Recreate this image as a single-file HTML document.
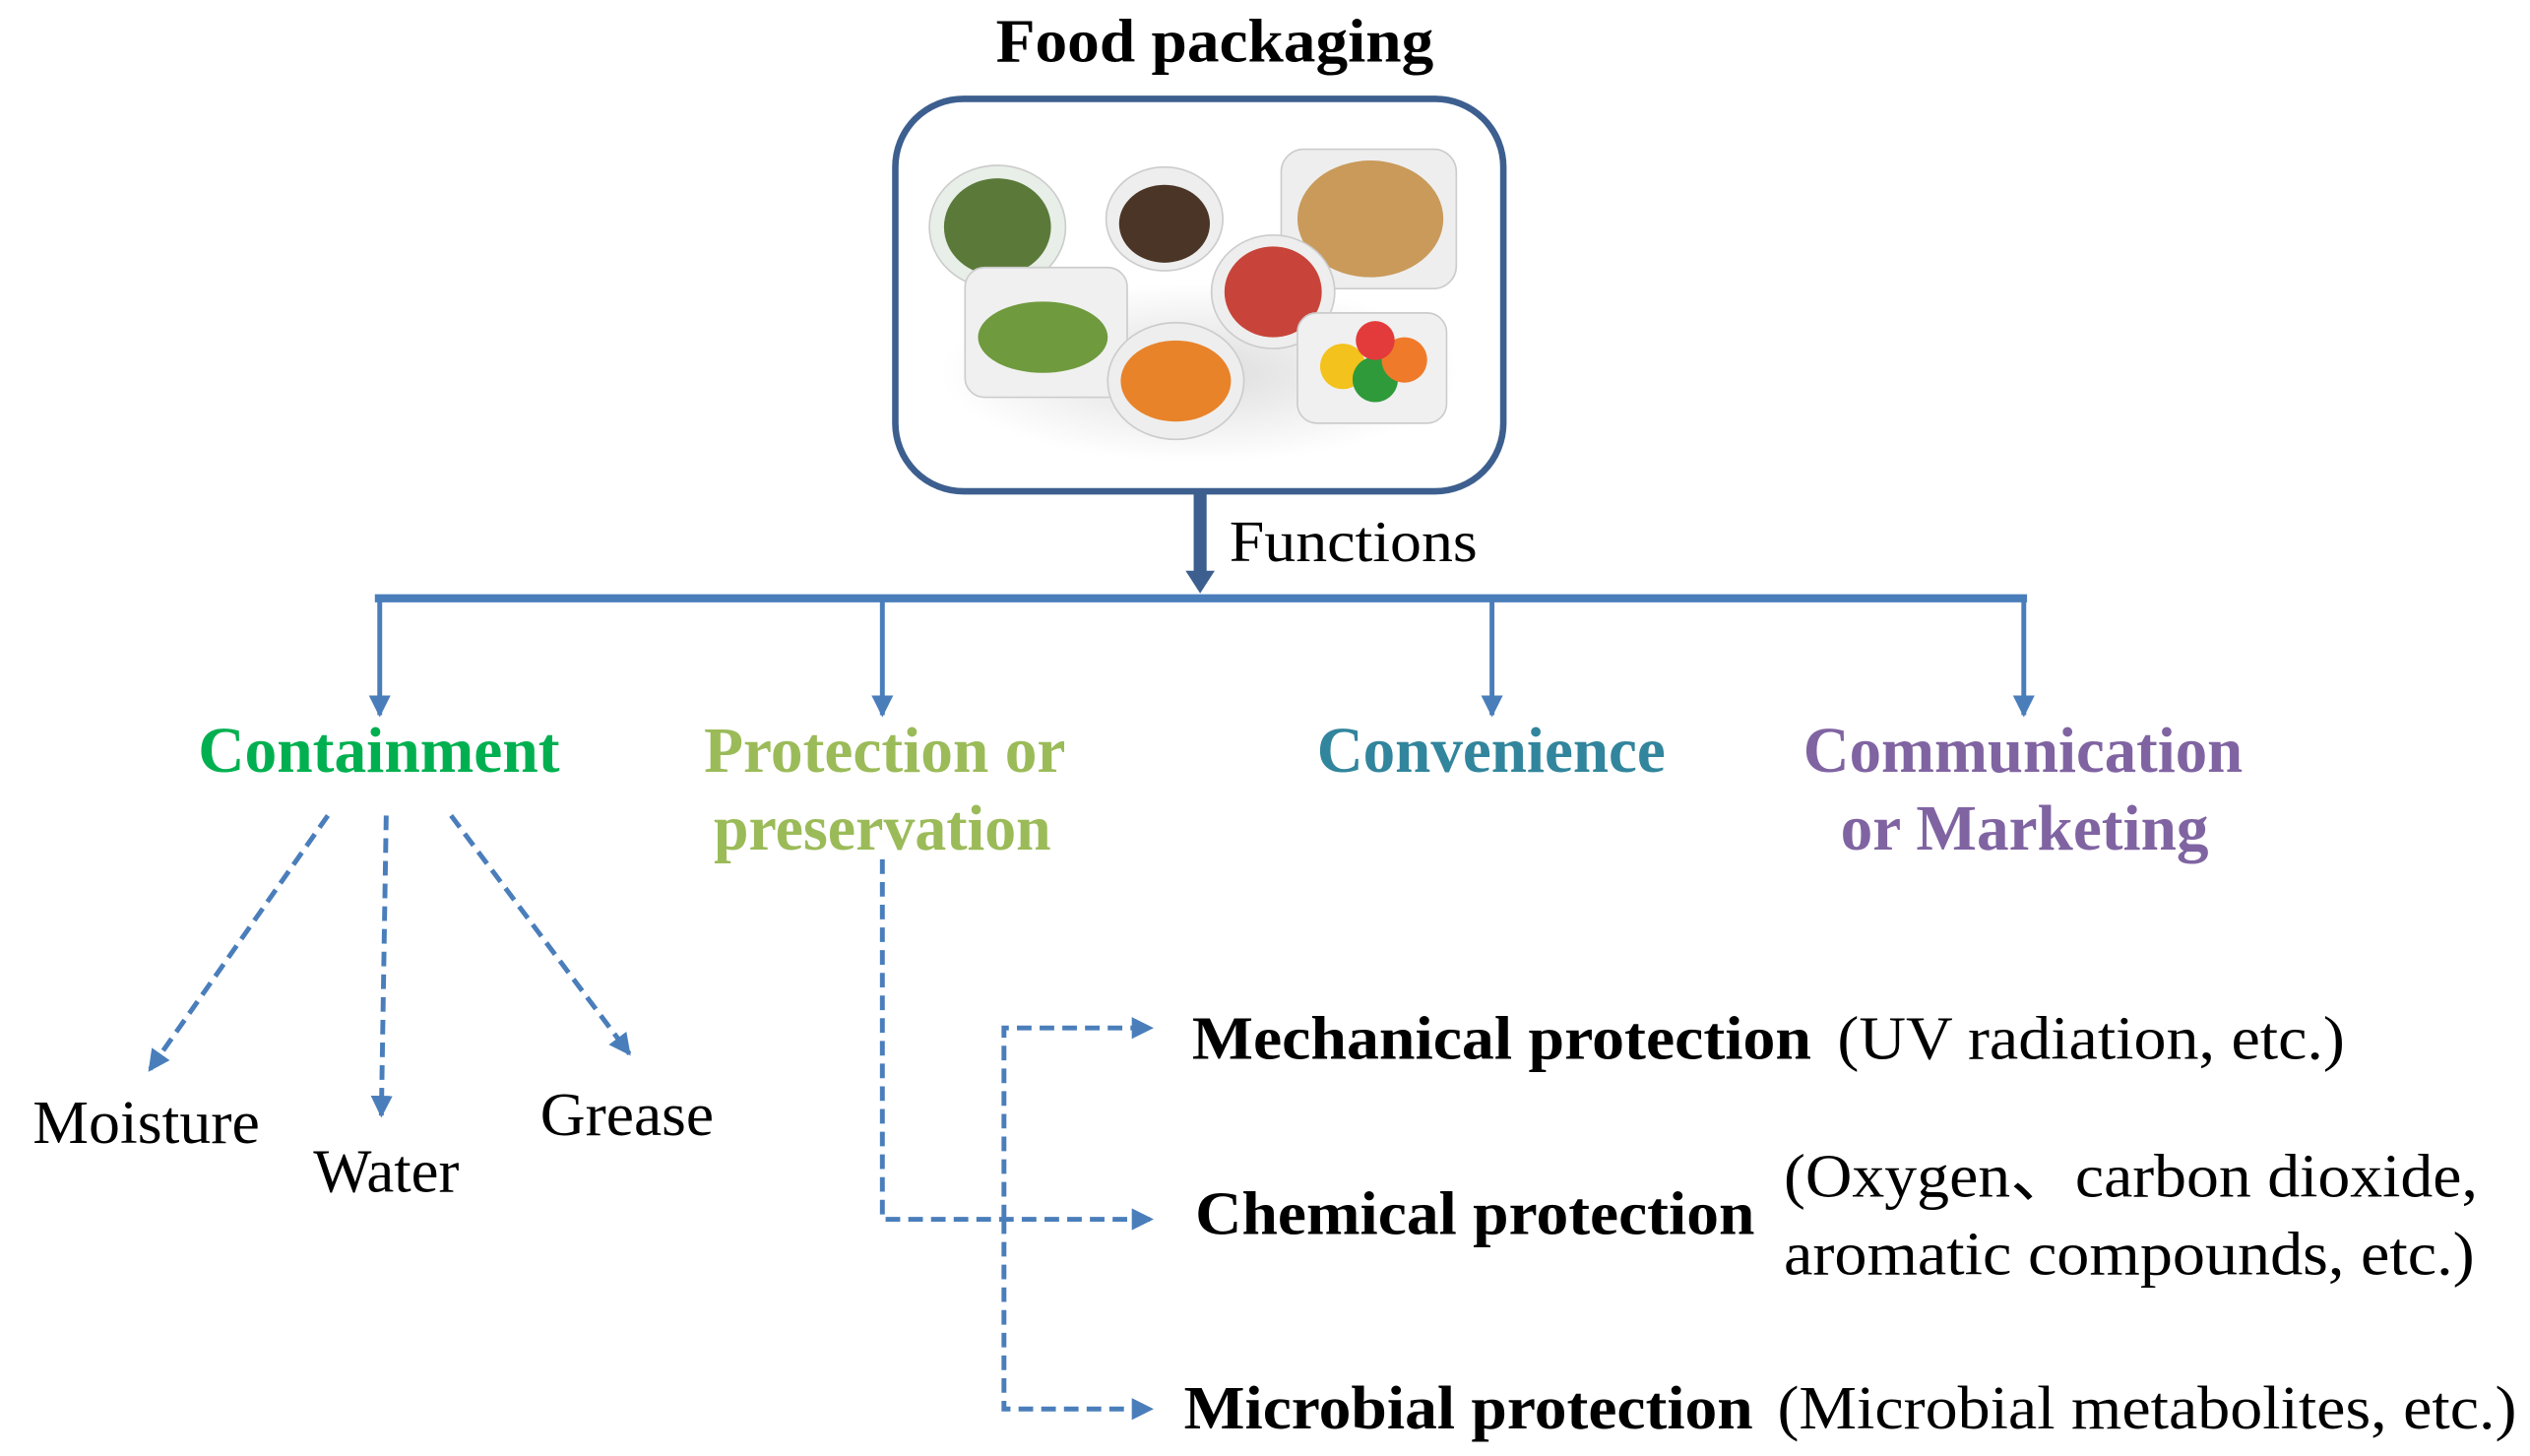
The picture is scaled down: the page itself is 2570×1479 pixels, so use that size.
<!DOCTYPE html>
<html><head><meta charset="utf-8"><style>html,body{margin:0;padding:0;background:#fff}svg{display:block}</style></head>
<body>
<svg width="2570" height="1479" viewBox="0 0 1560 898" xmlns="http://www.w3.org/2000/svg" font-family="'Liberation Serif', serif">
<defs>
<marker id="a" viewBox="0 0 10 10" refX="9" refY="5" markerWidth="4.5" markerHeight="4.5" orient="auto"><path d="M0,0 L10,5 L0,10 z" fill="#4a7ebb"/></marker>
<marker id="b" viewBox="0 0 10 10" refX="9" refY="5" markerWidth="4.5" markerHeight="4.5" orient="auto"><path d="M0,0 L10,5 L0,10 z" fill="#4a7ebb"/></marker>
<radialGradient id="sh" cx="0.5" cy="0.5" r="0.5"><stop offset="0" stop-color="#ddd"/><stop offset="1" stop-color="#fff"/></radialGradient>
</defs>
<text x="614" y="38" font-size="38" font-weight="bold" textLength="270" lengthAdjust="spacingAndGlyphs">Food packaging</text>
<rect x="552" y="61" width="375" height="242" rx="42" fill="#fff" stroke="#3d5f8f" stroke-width="4"/>
<ellipse cx="740" cy="230" rx="160" ry="55" fill="url(#sh)"/>
<ellipse cx="615" cy="140" rx="42" ry="38" fill="#e8eee8" stroke="#ccc"/>
<ellipse cx="615" cy="140" rx="33" ry="30" fill="#5b7a3a"/>
<ellipse cx="718" cy="135" rx="36" ry="32" fill="#eee" stroke="#ccc"/>
<ellipse cx="718" cy="138" rx="28" ry="24" fill="#4a3526"/>
<rect x="790" y="92" width="108" height="86" rx="14" fill="#eee" stroke="#ccc"/>
<ellipse cx="845" cy="135" rx="45" ry="36" fill="#c99a5a"/>
<rect x="595" y="165" width="100" height="80" rx="12" fill="#f0f0f0" stroke="#ccc"/>
<ellipse cx="643" cy="208" rx="40" ry="22" fill="#6f9a3e"/>
<ellipse cx="785" cy="180" rx="38" ry="35" fill="#eee" stroke="#ccc"/>
<ellipse cx="785" cy="180" rx="30" ry="28" fill="#c8443a"/>
<ellipse cx="725" cy="235" rx="42" ry="36" fill="#eee" stroke="#ccc"/>
<ellipse cx="725" cy="235" rx="34" ry="25" fill="#e8832a"/>
<rect x="800" y="193" width="92" height="68" rx="12" fill="#f0f0f0" stroke="#ccc"/>
<circle cx="828" cy="226" r="14" fill="#f3c21c"/>
<circle cx="848" cy="234" r="14" fill="#2e9a3a"/>
<circle cx="866" cy="222" r="14" fill="#ef7b2a"/>
<circle cx="848" cy="210" r="12" fill="#e33b3b"/>
<line x1="740" y1="304" x2="740" y2="355" stroke="#3d5f8f" stroke-width="8"/>
<path d="M731,352 L749,352 L740,366 z" fill="#3d5f8f"/>
<text x="758" y="346" font-size="36" textLength="153" lengthAdjust="spacingAndGlyphs">Functions</text>
<line x1="231" y1="369" x2="1250" y2="369" stroke="#4a7ebb" stroke-width="5"/>
<g stroke="#4a7ebb" stroke-width="3" marker-end="url(#a)">
<line x1="234" y1="369" x2="234" y2="441"/>
<line x1="544" y1="369" x2="544" y2="441"/>
<line x1="920" y1="369" x2="920" y2="441"/>
<line x1="1248" y1="369" x2="1248" y2="441"/>
</g>
<g font-size="40" font-weight="bold" lengthAdjust="spacingAndGlyphs">
<text x="122" y="476" fill="#00b050" textLength="223" lengthAdjust="spacingAndGlyphs">Containment</text>
<text x="434" y="476" fill="#9bbb59" textLength="223" lengthAdjust="spacingAndGlyphs">Protection or</text>
<text x="440" y="524" fill="#9bbb59" textLength="208" lengthAdjust="spacingAndGlyphs">preservation</text>
<text x="812" y="476" fill="#31859c" textLength="215" lengthAdjust="spacingAndGlyphs">Convenience</text>
<text x="1112" y="476" fill="#8064a2" textLength="271" lengthAdjust="spacingAndGlyphs">Communication</text>
<text x="1135" y="524" fill="#8064a2" textLength="227" lengthAdjust="spacingAndGlyphs">or Marketing</text>
</g>
<g stroke="#4a7ebb" stroke-width="3" stroke-dasharray="9,5" fill="none" marker-end="url(#b)">
<line x1="202" y1="503" x2="92" y2="660"/>
<line x1="238" y1="503" x2="235" y2="688"/>
<line x1="278" y1="503" x2="388" y2="650"/>
<polyline points="544,530 544,752 710,752"/>
<polyline points="619,752 619,634 710,634"/>
<polyline points="619,752 619,869 710,869"/>
</g>
<g font-size="38">
<text x="20" y="705" textLength="140" lengthAdjust="spacingAndGlyphs">Moisture</text>
<text x="193" y="735" textLength="90" lengthAdjust="spacingAndGlyphs">Water</text>
<text x="333" y="700" textLength="107" lengthAdjust="spacingAndGlyphs">Grease</text>
</g>
<g font-size="38">
<text x="735" y="653" font-weight="bold" textLength="382" lengthAdjust="spacingAndGlyphs">Mechanical protection</text>
<text x="1133" y="653" textLength="313" lengthAdjust="spacingAndGlyphs">(UV radiation, etc.)</text>
<text x="737" y="761" font-weight="bold" textLength="345" lengthAdjust="spacingAndGlyphs">Chemical protection</text>
<text x="1100" y="738" textLength="428" lengthAdjust="spacingAndGlyphs">(Oxygen、carbon dioxide,</text>
<text x="1100" y="786" textLength="426" lengthAdjust="spacingAndGlyphs">aromatic compounds, etc.)</text>
<text x="730" y="881" font-weight="bold" textLength="351" lengthAdjust="spacingAndGlyphs">Microbial protection</text>
<text x="1096" y="881" textLength="456" lengthAdjust="spacingAndGlyphs">(Microbial metabolites, etc.)</text>
</g>
</svg>
</body></html>
